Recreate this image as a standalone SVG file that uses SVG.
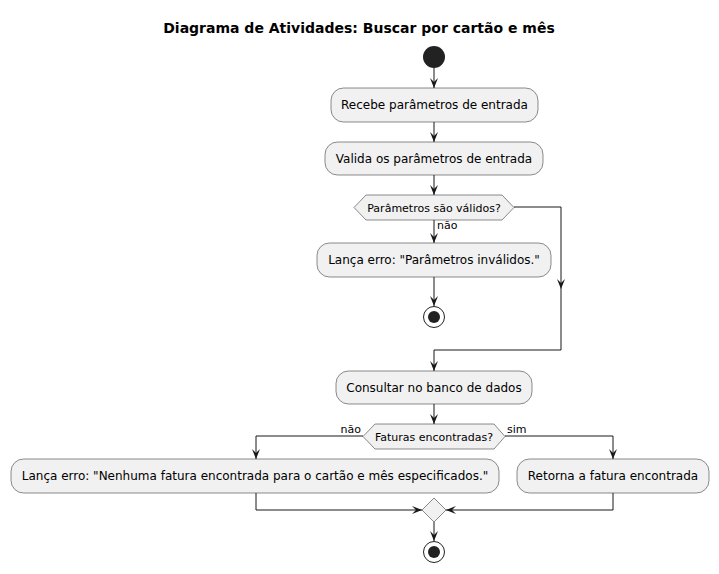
<svg xmlns="http://www.w3.org/2000/svg" width="719" height="574" viewBox="0 0 719 574">
<defs>
<style>
.box{fill:#F1F1F1;stroke:#181818;stroke-width:0.5}
.t{font-family:"DejaVu Sans",sans-serif;font-size:12px;fill:#000;text-anchor:middle}
.d{font-family:"DejaVu Sans",sans-serif;font-size:11px;fill:#000;text-anchor:middle}
.l{font-family:"DejaVu Sans",sans-serif;font-size:11px;fill:#000}
.ln{fill:none;stroke:#181818;stroke-width:1;marker-end:url(#ah)}
.ln2{fill:none;stroke:#181818;stroke-width:1}
</style>
<marker id="ah" markerUnits="userSpaceOnUse" markerWidth="11" markerHeight="9" refX="10" refY="4.5" orient="auto" viewBox="0 0 11 9">
<path d="M0,0.5 L10,4.5 L0,8.5 L4,4.5 Z" fill="#181818"/>
</marker>
</defs>
<rect width="719" height="574" fill="#FFFFFF"/>
<text x="359" y="33" font-family="DejaVu Sans, sans-serif" font-size="14" font-weight="bold" text-anchor="middle">Diagrama de Atividades: Buscar por cartão e mês</text>

<g id="connectors">
<path class="ln" d="M434,68 L434,88"/>
<path class="ln" d="M434,122 L434,142"/>
<path class="ln" d="M434,175 L434,195"/>
<path class="ln" d="M434,220 L434,243"/>
<path class="ln" d="M434,277 L434,306"/>
<path class="ln" d="M514,207 L561,207 L561,289"/>
<path class="ln" d="M561,289 L561,350 L434,350 L434,371"/>
<path class="ln" d="M434,404 L434,424"/>
<path class="ln" d="M363,436 L256,436 L256,459"/>
<path class="ln" d="M505,436 L613,436 L613,459"/>
<path class="ln" d="M256,493 L256,510 L422,510"/>
<path class="ln" d="M613,493 L613,510 L446,510"/>
<path class="ln" d="M434,522 L434,541"/>
<text class="l" x="437" y="229">não</text>
<text class="l" x="361" y="433" text-anchor="end">não</text>
<text class="l" x="507" y="433">sim</text>
</g>

<g id="start"><circle cx="434" cy="57" r="11" fill="#222222"/></g>

<g id="n1"><rect class="box" x="331" y="88" width="207" height="34" rx="12.5"/><text class="t" x="434.5" y="109">Recebe parâmetros de entrada</text></g>
<g id="n2"><rect class="box" x="325" y="142" width="218" height="33" rx="12.5"/><text class="t" x="434" y="163">Valida os parâmetros de entrada</text></g>
<g id="d1"><polygon class="box" points="354,207.5 366,195 502,195 514,207.5 502,220 366,220"/><text class="d" x="434" y="211.5">Parâmetros são válidos?</text></g>
<g id="n3"><rect class="box" x="317" y="243" width="234" height="34" rx="12.5"/><text class="t" x="434" y="264">Lança erro: "Parâmetros inválidos."</text></g>
<g id="stop1"><circle cx="434" cy="317" r="10.5" fill="none" stroke="#222222" stroke-width="1"/><circle cx="434" cy="317" r="6" fill="#222222"/></g>
<g id="n4"><rect class="box" x="336" y="371" width="196" height="33" rx="12.5"/><text class="t" x="434" y="392">Consultar no banco de dados</text></g>
<g id="d2"><polygon class="box" points="363,436.5 375,424 494,424 505,436.5 494,449 375,449"/><text class="d" x="434" y="440.5">Faturas encontradas?</text></g>
<g id="n5"><rect class="box" x="11" y="459" width="488" height="34" rx="12.5"/><text class="t" x="255" y="480">Lança erro: "Nenhuma fatura encontrada para o cartão e mês especificados."</text></g>
<g id="n6"><rect class="box" x="517" y="459" width="192" height="34" rx="12.5"/><text class="t" x="613" y="480">Retorna a fatura encontrada</text></g>
<g id="merge"><polygon class="box" points="434,498 446,510 434,522 422,510"/></g>
<g id="stop2"><circle cx="434" cy="552" r="10.5" fill="none" stroke="#222222" stroke-width="1"/><circle cx="434" cy="552" r="6" fill="#222222"/></g>
</svg>
